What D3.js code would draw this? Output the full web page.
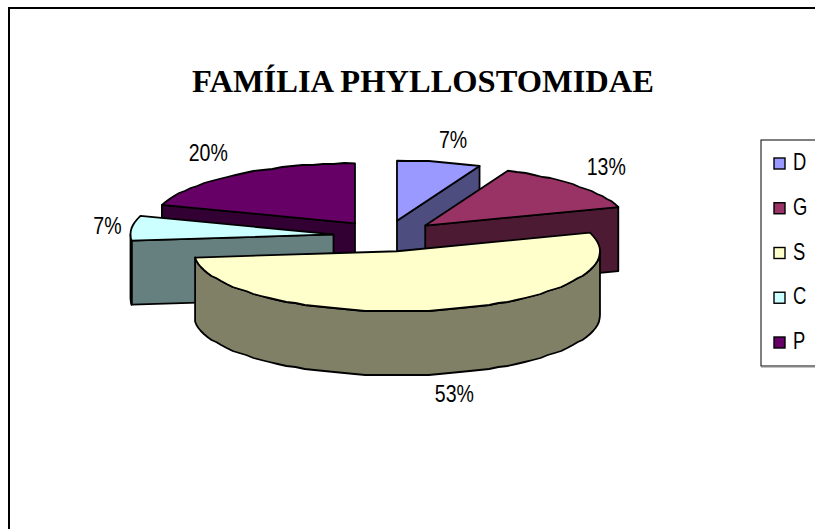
<!DOCTYPE html>
<html><head><meta charset="utf-8">
<script src="https://cdn.jsdelivr.net/npm/d3@7"></script>
<style>html,body{margin:0;padding:0;background:#fff;overflow:hidden}svg{display:block}</style>
</head><body>
<script>
const categories = ["D","G","S","C","P"];
const values = [1,2,8,1,3];
const percentLabels = ["7%","13%","53%","7%","20%"];
const topColors = ["#9999FF","#993366","#FFFFCC","#CCFFFF","#660066"];
const sideColors = ["#4D4D80","#4D1A33","#808066","#668080","#330033"];
const titleText = "FAMÍLIA PHYLLOSTOMIDAE";

const W=815,H=529;
const cx=386, cy=236, rx=203, ry=60, depth=64, explode=0.26;
const labelFactor=[1.33,1.2,1.36,1.12,1.23];
const labelNudge=[[0,-3],[0,-10],[0,-1],[0,-1],[0,-11]];
const drawOrder=[4,0,1,3,2];
const grid=1;

const svg=d3.select("body").append("svg").attr("width",W).attr("height",H);
svg.append("rect").attr("x",9).attr("y",8).attr("width",W+20).attr("height",H+20)
  .attr("fill","#fff").attr("stroke","#000").attr("stroke-width",2);

svg.append("text").attr("x",423).attr("y",92).attr("text-anchor","middle")
  .attr("font-family","'Liberation Serif',serif").attr("font-weight","bold").attr("font-size",32.5)
  .attr("fill","#000").text(titleText);

const arcs=d3.pie().sort(null).value(d=>d)(values);
const line=d3.line();
const X=v=>cx+rx*v, Y=v=>cy+ry*v;
const step=Math.PI/60;
const snap=v=>Math.round(v/grid)*grid;

function ringPts(a0,a1,ox,oy,dz){
  const n=Math.max(1,Math.ceil((a1-a0)/step));
  return d3.range(n+1).map(i=>{
    const a=a0+(a1-a0)*i/n;
    const x=X(ox+Math.sin(a)), y=Y(oy-Math.cos(a));
    const end=i===0||i===n;
    return [x, (end?y:snap(y))+dz];
  });
}
const g=svg.append("g").attr("stroke","#000").attr("stroke-width",1.8).attr("stroke-linejoin","round");

drawOrder.forEach(i=>{
  const d=arcs[i], mid=(d.startAngle+d.endAngle)/2;
  const ox=explode*Math.sin(mid), oy=-explode*Math.cos(mid);
  const apex=[X(ox),Y(oy)];
  const side=sideColors[i];
  const face=a=>{
    const p=[X(ox+Math.sin(a)),Y(oy-Math.cos(a))];
    g.append("path").attr("fill",side)
     .attr("d",line([apex,p,[p[0],p[1]+depth],[apex[0],apex[1]+depth]])+"Z");
  };
  if(d.startAngle>Math.PI && d.startAngle<2*Math.PI) face(d.startAngle);
  if(d.endAngle>0 && d.endAngle<Math.PI) face(d.endAngle);
  const r0=Math.max(d.startAngle,Math.PI/2), r1=Math.min(d.endAngle,Math.PI*1.5);
  if(r1>r0){
    const upper=ringPts(r0,r1,ox,oy,0), lower=ringPts(r0,r1,ox,oy,depth).reverse();
    g.append("path").attr("fill",side).attr("d",line(upper.concat(lower))+"Z");
  }
  g.append("path").attr("fill",topColors[i])
   .attr("d",line([apex].concat(ringPts(d.startAngle,d.endAngle,ox,oy,0)))+"Z");
});

const sans="'Liberation Sans',Arial,sans-serif";
const lab=svg.append("g").attr("font-family",sans).attr("font-size",23).attr("fill","#000").attr("text-anchor","middle");
arcs.forEach((d,i)=>{
  const mid=(d.startAngle+d.endAngle)/2;
  const ox=explode*Math.sin(mid), oy=-explode*Math.cos(mid);
  const f=labelFactor[i];
  const bottom=Math.cos(mid)<-0.5?depth:0;
  const x=X(ox+f*Math.sin(mid))+labelNudge[i][0];
  const y=Y(oy-f*Math.cos(mid))+bottom+labelNudge[i][1]+8;
  lab.append("text").attr("transform",`translate(${x},${y}) scale(0.85,1)`).text(percentLabels[i]);
});

const legendY=d3.scalePoint().domain(categories).range([163,342]);
svg.append("rect").attr("x",761).attr("y",140).attr("width",80).attr("height",226)
  .attr("fill","#fff").attr("stroke","#000").attr("stroke-width",1);
svg.append("line").attr("x1",761).attr("x2",815).attr("y1",367).attr("y2",367).attr("stroke","#888").attr("stroke-width",1);
categories.forEach((c,i)=>{
  const y=legendY(c);
  svg.append("rect").attr("x",774).attr("y",y-5).attr("width",11).attr("height",11)
    .attr("fill",topColors[i]).attr("stroke","#000").attr("stroke-width",1.4);
  svg.append("text").attr("transform",`translate(793,${y+7}) scale(0.8,1)`).attr("font-family",sans)
    .attr("font-size",23).attr("fill","#000").text(c);
});
</script>
</body></html>
